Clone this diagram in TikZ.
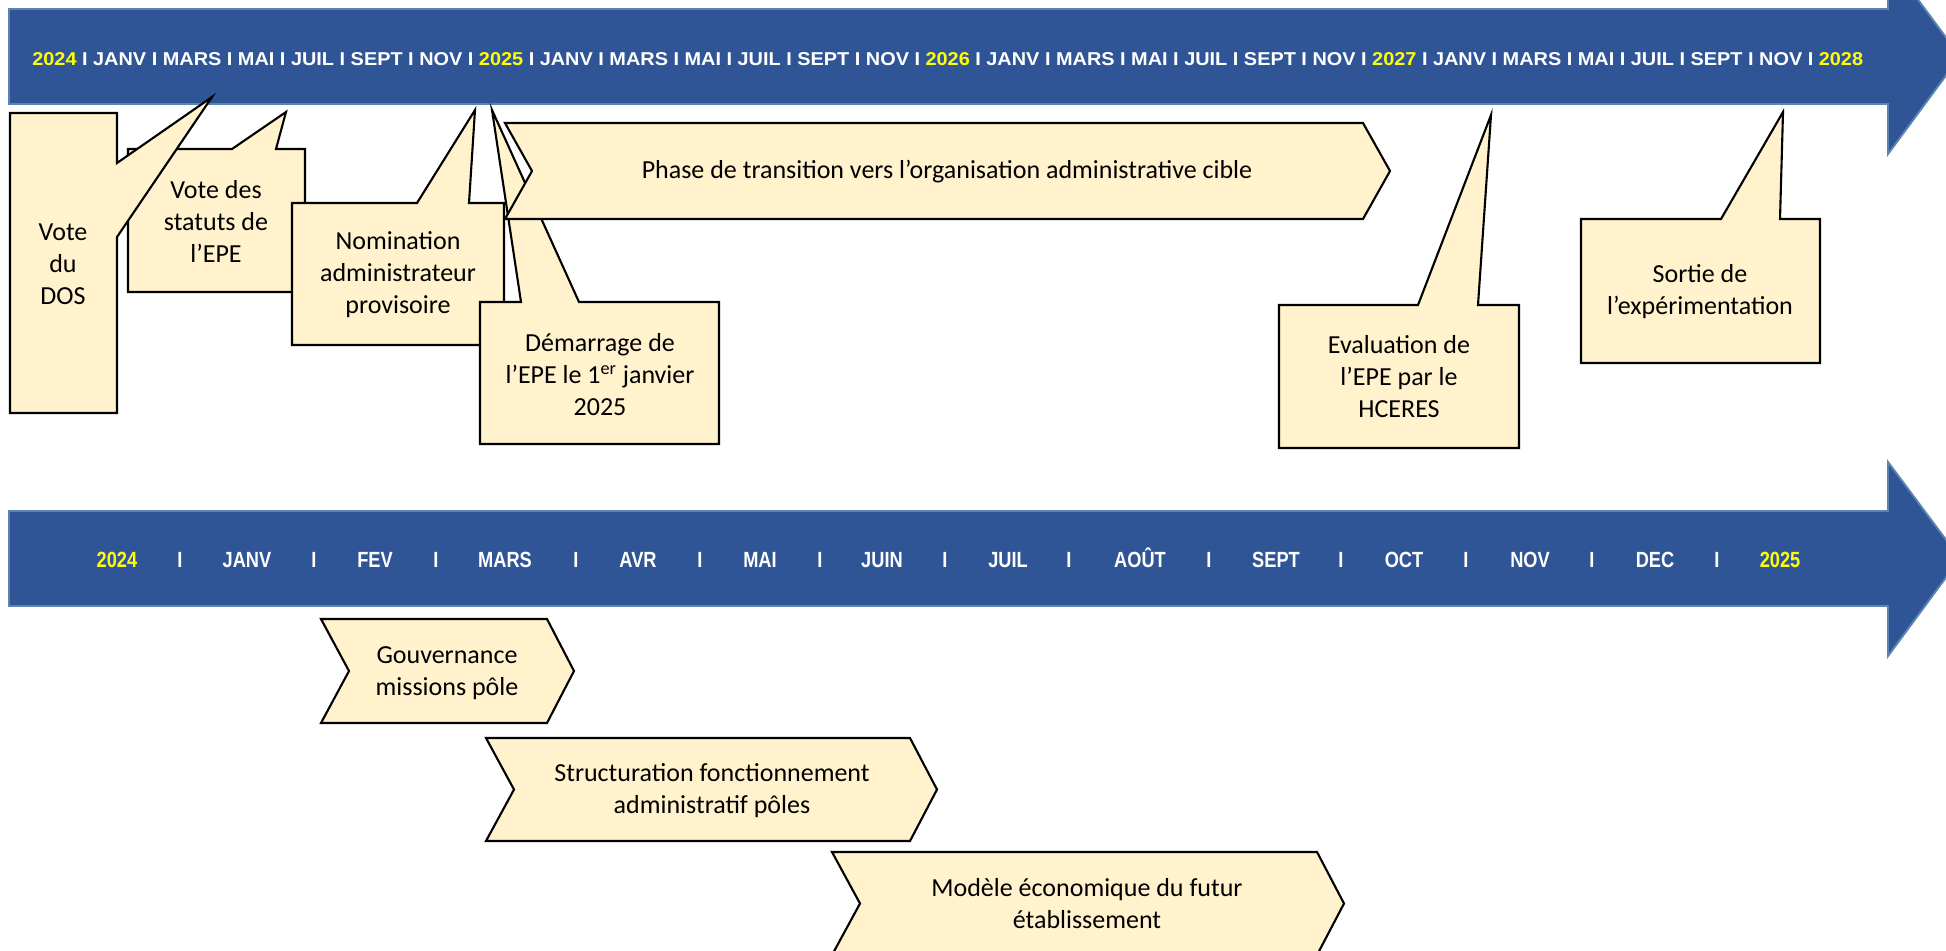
\documentclass[tikz,border=0pt]{standalone}
\usepackage{fontspec}
\setmainfont{Carlito}
\newfontfamily\barfont{Liberation Sans}
\newfontfamily\barfontn[FakeStretch=0.83]{Liberation Sans}
\usepackage{xcolor}
\usepackage{graphicx}
\usepackage{tikz}
\definecolor{barblue}{HTML}{2F5597}
\definecolor{baredge}{HTML}{5B84B1}
\definecolor{cream}{HTML}{FFF2CC}
\definecolor{yrcol}{HTML}{FFFF00}

\begin{document}
\begin{tikzpicture}[
    x=0.02cm, y=-0.02cm,
    bar/.style={fill=barblue, draw=baredge, line width=1.1pt},
    call/.style={fill=cream, draw=black, line width=1.2pt},
    txt/.style={font=\fontsize{14.8}{18.2}\selectfont, align=center, inner sep=0pt},
    mon/.style={font=\barfontn\bfseries\fontsize{12.5}{14}\selectfont, text=white, anchor=base, inner sep=0pt},
    yr/.style={mon, text=yrcol}
  ]
  \useasboundingbox (0,0) rectangle (1946,950);
  \clip (0,0) rectangle (1946,950);

  % Top timeline 2024-2028
  \draw[bar] (9,9) -- (1888,9) -- (1888,-41) -- (1960,56.5) -- (1888,154) -- (1888,104) -- (9,104) -- cycle;
  \node[anchor=base west, inner sep=0pt, text=white] (dates) at (32,65) {\resizebox{36.62cm}{\height}{\barfont\bfseries\fontsize{10.6}{12}\selectfont
    \textcolor{yrcol}{2024} I JANV I MARS I MAI I JUIL I SEPT I NOV I
    \textcolor{yrcol}{2025} I JANV I MARS I MAI I JUIL I SEPT I NOV I
    \textcolor{yrcol}{2026} I JANV I MARS I MAI I JUIL I SEPT I NOV I
    \textcolor{yrcol}{2027} I JANV I MARS I MAI I JUIL I SEPT I NOV I
    \textcolor{yrcol}{2028}}};

  % Callouts
  \draw[call] (128,149) -- (232,149) -- (286,112) -- (276,149) -- (305,149) -- (305,292) -- (128,292) -- cycle;
  \node[txt] (statuts) at (216,221) {Vote des\\statuts de\\l’EPE};

  \draw[call] (10,113) -- (117,113) -- (117,163) -- (212,97) -- (117,237) -- (117,413) -- (10,413) -- cycle;
  \node[txt] (dos) at (63,264) {Vote\\du\\DOS};

  \draw[call] (292,203) -- (417,203) -- (475,110) -- (469,203) -- (504,203) -- (504,345) -- (292,345) -- cycle;
  \node[txt] (nomination) at (398,275) {Nomination\\administrateur\\provisoire};

  \draw[call] (480,302) -- (521,302) -- (492,110) -- (579,302) -- (719,302) -- (719,444) -- (480,444) -- cycle;
  \node[txt] (demarrage) at (600,375) {Démarrage de\\l’EPE le 1\textsuperscript{er} janvier\\2025};

  \draw[call] (505,123) -- (1363,123) -- (1390,171) -- (1363,219) -- (505,219) -- (532,171) -- cycle;
  \node[txt] (phase) at (947,172) {Phase de transition vers l’organisation administrative cible};

  \draw[call] (1279,305) -- (1418,305) -- (1491,115) -- (1478,305) -- (1519,305) -- (1519,448) -- (1279,448) -- cycle;
  \node[txt] (hceres) at (1399,377) {Evaluation de\\l’EPE par le\\HCERES};

  \draw[call] (1581,219) -- (1721,219) -- (1783,112) -- (1780,219) -- (1820,219) -- (1820,363) -- (1581,363) -- cycle;
  \node[txt] (sortie) at (1700,292) {Sortie de\\l’expérimentation};

  % Bottom timeline 2024
  \draw[bar] (9,511) -- (1888,511) -- (1888,462) -- (1960,558.5) -- (1888,656) -- (1888,606) -- (9,606) -- cycle;
  \node[yr] (y24) at (117,567) {2024};
  \node[yr] (y25) at (1780,567) {2025};
  \foreach \x/\m [count=\i] in {180/I, 247/JANV, 314/I, 375/FEV, 436/I, 505/MARS, 576/I, 638/AVR,
      700/I, 760/MAI, 820/I, 882/JUIN, 945/I, 1008/JUIL, 1069/I, 1140/AOÛT, 1209/I, 1276/SEPT,
      1341/I, 1404/OCT, 1466/I, 1530/NOV, 1592/I, 1655/DEC, 1717/I}
    \node[mon] (mo\i) at (\x,567) {\m};

  % Chevrons
  \foreach \xa/\xb/\ya/\yb in {321/547/619/723, 486/910/738/841, 832/1317/852/955}
    \draw[call] (\xa,\ya) -- (\xb,\ya) -- ({\xb+27},{(\ya+\yb)/2}) -- (\xb,\yb) -- (\xa,\yb) -- ({\xa+28},{(\ya+\yb)/2}) -- cycle;
  \node[txt] (gouv) at (447,673) {Gouvernance\\missions pôle};
  \node[txt] (struct) at (712,791) {Structuration fonctionnement\\administratif pôles};
  \node[txt] (modele) at (1087,904) {Modèle économique du futur\\établissement};
\end{tikzpicture}
\end{document}
